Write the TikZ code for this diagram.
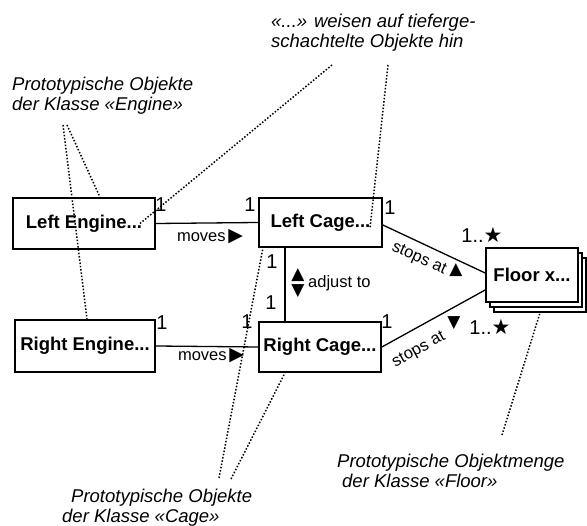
\documentclass[tikz,border=0pt]{standalone}
\usepackage{fontspec}
\setmainfont{Liberation Sans}
\newfontfamily\symfont{DejaVu Sans}

\begin{document}
\begin{tikzpicture}[x=1pt, y=-1pt,
  obj/.style={draw, line width=1.7pt, fill=white, inner sep=0pt, font=\fontsize{18.5}{20}\selectfont\bfseries},
  mult/.style={inner sep=0pt, font=\fontsize{20}{20}\selectfont},
  lbl/.style={inner sep=0pt, font=\fontsize{16.5}{18}\selectfont},
  sym/.style={inner sep=0pt, font=\fontsize{17}{17}\selectfont\symfont},
  note/.style={inner sep=0pt, align=left, font=\fontsize{18.5}{20}\selectfont\itshape},
  hint/.style={line width=1.5pt, dash pattern=on 1.5pt off 1.8pt},
  assoc/.style={line width=1.3pt}]
\useasboundingbox (0,0) rectangle (587,526);

% objects
\node[obj, minimum width=142pt, minimum height=51pt] (le) at (84,223.5) {Left Engine...};
\node[obj, minimum width=140pt, minimum height=52pt] (re) at (85,346) {Right Engine...};
\node[obj, minimum width=123pt, minimum height=49pt] (lc) at (320.5,222.5) {Left Cage...};
\node[obj, minimum width=122pt, minimum height=50pt] (rc) at (320,347) {Right Cage...};
\node[obj, minimum width=92pt, minimum height=54pt] (fl3) at (540,285) {};
\node[obj, minimum width=92pt, minimum height=54pt] (fl2) at (536,280) {};
\node[obj, minimum width=92pt, minimum height=54pt] (fl) at (532,275) {Floor x...};

% associations
\draw[assoc] (le.east) -- (lc.west);
\draw[assoc] (re.east) -- (rc.west);
\draw[assoc] ([xshift=-35.5pt]lc.south) -- ([xshift=-35pt]rc.north);
\draw[assoc] ([yshift=-2.5pt]lc.east) -- ([yshift=2pt]fl.west);
\draw[assoc] (rc.east) -- ([yshift=-15pt]fl.west);

% association names
\node[lbl] (mv1) at (210,237) {moves\,{\fontsize{19}{19}\selectfont\symfont ▶}};
\node[lbl] (mv2) at (211,356) {moves\,{\fontsize{19}{19}\selectfont\symfont ▶}};
\node[sym] (adjUp) at (298,275) {▲};
\node[sym] (adjDn) at (298,291) {▼};
\node[lbl, anchor=west] (adj) at (308,283) {adjust to};
\node[lbl, rotate=-24] (st1) at (419,259) {stops at};
\node[sym] (st1t) at (456,270) {▲};
\node[lbl, rotate=29] (st2) at (419,350) {stops at};
\node[sym] (st2t) at (454,323) {▼};

% multiplicities
\node[mult] (m1) at (161,205) {1};
\node[mult] (m2) at (250,205) {1};
\node[mult] (m3) at (390,208) {1};
\node[mult] (m4) at (272,262) {1};
\node[mult] (m5) at (271,303) {1};
\node[mult] (m6) at (162,323) {1};
\node[mult] (m7) at (247,322) {1};
\node[mult] (m8) at (387,322) {1};
\node[mult] (m9) at (482,235) {1..{\fontsize{21}{21}\selectfont\symfont ★}};
\node[mult] (m10) at (490,327) {1..{\fontsize{21}{21}\selectfont\symfont ★}};

% notes
\node[note, anchor=west] (nEng) at (12,96) {Prototypische Objekte\\der Klasse «Engine»};
\node[note, anchor=west] (nDots) at (271,33) {«...» weisen auf tieferge-\\schachtelte Objekte hin};
\node[note, anchor=west] (nCage) at (62,508) {\hspace*{9pt}Prototypische Objekte\\der Klasse «Cage»};
\node[note, anchor=west] (nFloor) at (337,471) {Prototypische Objektmenge\\\hspace*{5pt}der Klasse «Floor»};

% note pointers
\coordinate (engTip) at (63,125);
\coordinate (engTip2) at (67,125);
\coordinate (dotTip) at (332,65);
\coordinate (dotTip2) at (388,65);
\coordinate (cageTip) at (219,478);
\coordinate (cageTip2) at (231,479);
\coordinate (floorTip) at (502,435);
\draw[hint] (engTip) -- ([xshift=2pt]re.north);
\draw[hint] (engTip2) -- ([xshift=16pt]le.north);
\draw[hint] (dotTip) -- ([xshift=56pt]le.center);
\draw[hint] (dotTip2) -- ([xshift=49.5pt,yshift=-5.5pt]lc.center);
\draw[hint] (cageTip) -- ([xshift=-57.5pt]lc.south);
\draw[hint] (cageTip2) -- ([xshift=-35pt]rc.south);
\draw[hint] (floorTip) -- (fl3.south);
\end{tikzpicture}
\end{document}
